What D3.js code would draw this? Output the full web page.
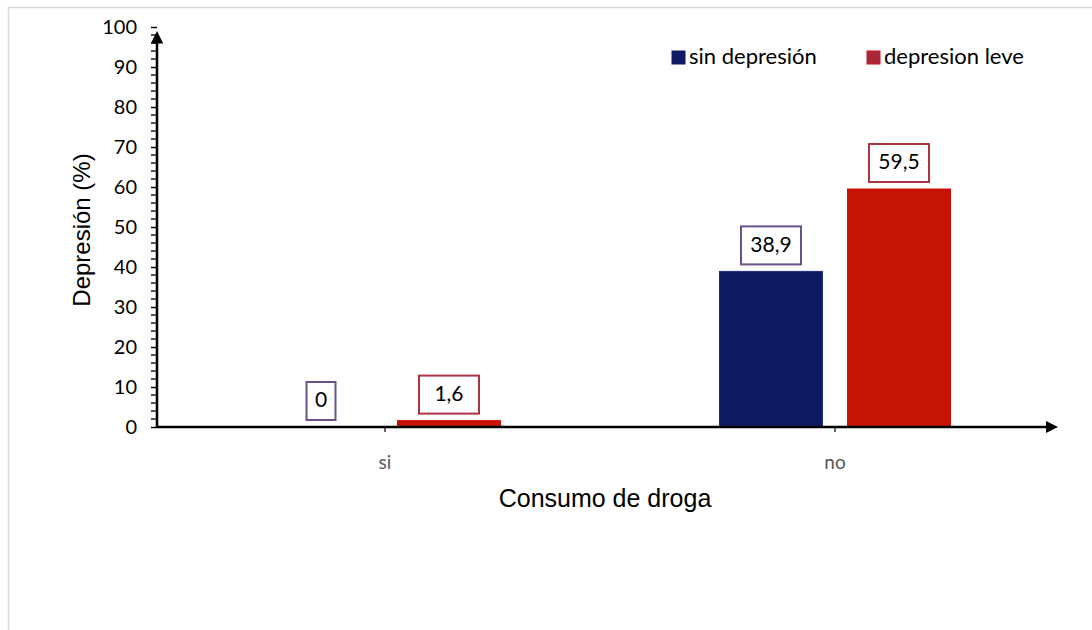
<!DOCTYPE html>
<html>
<head>
<meta charset="utf-8">
<script src="https://cdn.jsdelivr.net/npm/d3@7"></script>
<style>
  html, body { margin: 0; padding: 0; background: #fff; }
  svg { display: block; }
</style>
</head>
<body>
<svg id="chart" width="1092" height="630"></svg>
<script>
// Data
const categories = ["si", "no"];
const seriesNames = ["sin depresión", "depresion leve"];
const sinDepresion = [0, 38.9];
const depresionLeve = [1.6, 59.5];
const valueLabels = [["0", "38,9"], ["1,6", "59,5"]];
const yTicks = [0, 10, 20, 30, 40, 50, 60, 70, 80, 90, 100];

const fills = ["#0e1a63", "#c81405"];
const strokes = ["#1f2f80", "#d01010"];
const labelBorders = ["#6b5189", "#ab3440"];

const svg = d3.select("#chart");
const font = "Lato, 'Open Sans', sans-serif";

// outer frame
svg.append("rect")
  .attr("x", 8.5).attr("y", 7.5)
  .attr("width", 1100).attr("height", 700)
  .attr("fill", "none").attr("stroke", "#d9d9d9").attr("stroke-width", 1.5);

const plot = { left: 157, right: 1060, top: 27, bottom: 427 };
const groupWidth = 231;

const x0 = d3.scaleBand().domain(categories).range([plot.left + 3, plot.right]);
const x1 = d3.scaleBand().domain(seriesNames).range([0, groupWidth]).paddingInner(0.195);
const y = d3.scaleLinear().domain([0, 100]).range([plot.bottom, plot.top]);

const seriesData = [sinDepresion, depresionLeve];

// bars
seriesNames.forEach((s, si) => {
  const g = svg.append("g");
  categories.forEach((c, ci) => {
    const v = seriesData[si][ci];
    const bx = x0(c) + x0.bandwidth() / 2 - groupWidth / 2 + x1(s);
    if (v > 0) {
      g.append("rect")
        .attr("x", bx).attr("y", y(v))
        .attr("width", x1.bandwidth()).attr("height", y(0) - y(v))
        .attr("fill", fills[si])
        .attr("stroke", strokes[si]).attr("stroke-width", 1);
    }
    // value label box
    const cx = bx + x1.bandwidth() / 2;
    const text = valueLabels[si][ci];
    const bw = text.length === 1 ? 29 : 60;
    const bh = 38;
    const by = y(v) - 7 - bh;
    g.append("rect")
      .attr("x", cx - bw / 2).attr("y", by)
      .attr("width", bw).attr("height", bh)
      .attr("fill", "#fff")
      .attr("stroke", labelBorders[si]).attr("stroke-width", 2);
    g.append("text")
      .attr("x", cx).attr("y", by + bh / 2 + 1)
      .attr("text-anchor", "middle").attr("dominant-baseline", "middle")
      .attr("font-family", font).attr("font-size", 21).attr("fill", "#000")
      .text(text);
  });
});

// y axis
const yAxis = d3.axisLeft(y).tickValues(yTicks).tickSize(6).tickSizeOuter(0).tickPadding(14);
const yg = svg.append("g").attr("transform", `translate(${plot.left},0)`).call(yAxis);
yg.select(".domain").remove();
yg.selectAll(".tick line").attr("stroke", "#000").attr("stroke-width", 1.5);
yg.selectAll(".tick text").attr("font-family", font).attr("font-size", 20).attr("fill", "#000");

// minor ticks
const minor = d3.range(0, 101, 2).filter(v => v % 10 !== 0);
svg.append("g").selectAll("line").data(minor).join("line")
  .attr("x1", plot.left - 6).attr("x2", plot.left)
  .attr("y1", d => y(d)).attr("y2", d => y(d))
  .attr("stroke", "#000").attr("stroke-width", 1.3);

// axis lines with arrows
const defs = svg.append("defs");
defs.append("marker")
  .attr("id", "arrow").attr("viewBox", "0 0 10 10")
  .attr("refX", 2).attr("refY", 5)
  .attr("markerWidth", 5).attr("markerHeight", 5)
  .attr("markerUnits", "strokeWidth")
  .attr("orient", "auto")
  .append("path").attr("d", "M0,0 L10,5 L0,10 Z").attr("fill", "#000");

svg.append("line")
  .attr("x1", plot.left).attr("x2", plot.left)
  .attr("y1", plot.bottom).attr("y2", plot.top + 14)
  .attr("stroke", "#000").attr("stroke-width", 2.5)
  .attr("marker-end", "url(#arrow)");

svg.append("line")
  .attr("x1", plot.left).attr("x2", plot.right - 12)
  .attr("y1", plot.bottom).attr("y2", plot.bottom)
  .attr("stroke", "#000").attr("stroke-width", 2.5)
  .attr("marker-end", "url(#arrow)");

// x axis category ticks and labels
const xg = svg.append("g");
categories.forEach(c => {
  const cx = x0(c) + x0.bandwidth() / 2;
  xg.append("line")
    .attr("x1", cx).attr("x2", cx)
    .attr("y1", plot.bottom).attr("y2", plot.bottom + 5)
    .attr("stroke", "#000").attr("stroke-width", 1.2);
  xg.append("text")
    .attr("x", cx).attr("y", plot.bottom + 42)
    .attr("text-anchor", "middle")
    .attr("font-family", font).attr("font-size", 19).attr("fill", "#595959")
    .text(c);
});

// axis titles
svg.append("text")
  .attr("transform", `translate(90,230) rotate(-90)`)
  .attr("text-anchor", "middle")
  .attr("font-family", "Arial, 'Liberation Sans', sans-serif").attr("font-size", 24)
  .attr("fill", "#000")
  .text("Depresión (%)");

svg.append("text")
  .attr("x", 605).attr("y", 507)
  .attr("text-anchor", "middle")
  .attr("font-family", "Arial, 'Liberation Sans', sans-serif").attr("font-size", 25)
  .attr("fill", "#000")
  .text("Consumo de droga");

// legend
const legendItems = [
  { name: seriesNames[0], x: 672, fill: fills[0], stroke: "#0e1a63" },
  { name: seriesNames[1], x: 867, fill: "#a8283a", stroke: "#d01010" }
];
legendItems.forEach(d => {
  svg.append("rect")
    .attr("x", d.x).attr("y", 51).attr("width", 13).attr("height", 13)
    .attr("fill", d.fill).attr("stroke", d.stroke).attr("stroke-width", 1);
  svg.append("text")
    .attr("x", d.x + 17).attr("y", 58)
    .attr("dominant-baseline", "middle")
    .attr("font-family", font).attr("font-size", 22).attr("fill", "#000")
    .text(d.name);
});
</script>
</body>
</html>
